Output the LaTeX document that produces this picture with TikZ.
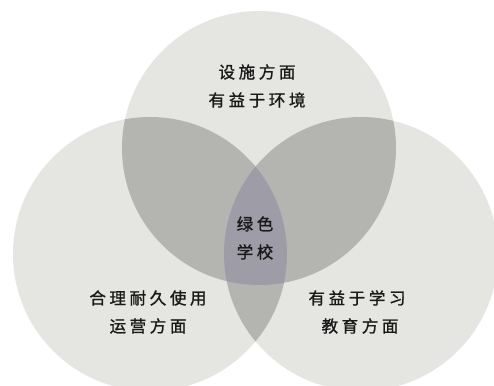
\documentclass[tikz,border=0pt]{standalone}
\usepackage{fontspec}
\newfontfamily\cjk[LetterSpace=22, FakeBold=1.2]{Noto Sans CJK SC}
\definecolor{onec}{RGB}{229,229,225}
\definecolor{twoc}{RGB}{180,180,177}
\definecolor{threec}{RGB}{158,157,167}
\definecolor{txt}{RGB}{25,25,25}
\tikzset{
  lbl/.style={align=center, text=txt, font=\cjk\fontsize{16.5}{28}\selectfont, inner sep=0pt},
}
\begin{document}
\begin{tikzpicture}[x=1pt,y=-1pt]
\useasboundingbox[fill=white] (0,0) rectangle (494,385);
\coordinate (T) at (259,148);
\coordinate (L) at (150,254);
\coordinate (R) at (361,254);
\def\rr{137pt}
% single regions
\fill[onec] (T) circle[radius=\rr];
\fill[onec] (L) circle[radius=\rr];
\fill[onec] (R) circle[radius=\rr];
% pairwise
\begin{scope}
  \clip (L) circle[radius=\rr];
  \fill[twoc] (R) circle[radius=\rr];
\end{scope}
\begin{scope}
  \clip (T) circle[radius=\rr];
  \fill[twoc] (L) circle[radius=\rr];
  \fill[twoc] (R) circle[radius=\rr];
  \clip (L) circle[radius=\rr];
  \fill[threec] (R) circle[radius=\rr];
\end{scope}
% labels
\node[lbl] (top) at (257,86) {设施方面\\有益于环境};
\node[lbl] (mid) at (255,238) {绿色\\学校};
\node[lbl] (left) at (148,312) {合理耐久使用\\运营方面};
\node[lbl] (right) at (357,312) {有益于学习\\\hspace*{6pt}教育方面};
\end{tikzpicture}
\end{document}
